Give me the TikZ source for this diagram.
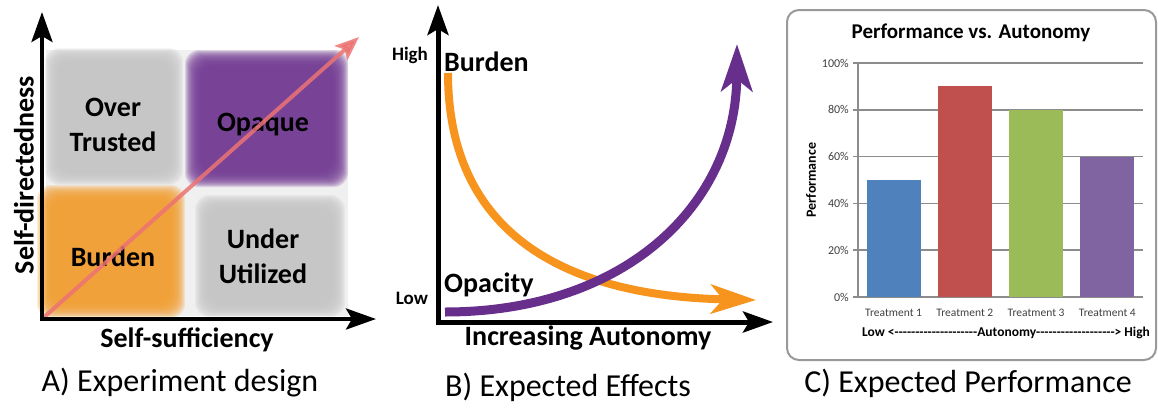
\documentclass[tikz,border=0pt]{standalone}
\usepackage{fontspec}
\setmainfont{Carlito}
\usetikzlibrary{arrows.meta}

\definecolor{quadgray}{RGB}{198,198,198}
\definecolor{quadpurple}{RGB}{117,62,150}
\definecolor{quadorange}{RGB}{245,160,52}
\definecolor{trendred}{RGB}{236,115,115}
\definecolor{burdenorange}{RGB}{247,148,30}
\definecolor{opacitypurple}{RGB}{104,46,140}
\definecolor{barblue}{RGB}{79,129,189}
\definecolor{barred}{RGB}{192,80,77}
\definecolor{bargreen}{RGB}{155,187,89}
\definecolor{barpurple}{RGB}{128,100,162}

% blurred quadrant: colour, top-left x/y, bottom-right x/y
\newcommand{\softbox}[5]{%
  \foreach \k in {0,...,15}
    \fill[#1, opacity=0.18, rounded corners=14pt]
      (#2+\k,#3+\k) rectangle (#4-\k,#5-\k);
}
% a run of plain hyphens (no en/em dash ligatures)
\newcommand{\dashrun}[1]{\foreach \n in {1,...,#1}{\mbox{-}}}

\tikzset{
  every node/.style={inner sep=0pt},
  axishead/.tip={Stealth[length=30pt,width=21pt,inset=6pt]},
  axisline/.style={line width=4pt, line join=miter, axishead-axishead},
  bigword/.style={font=\fontsize{28}{35}\selectfont\bfseries, align=center},
  smallword/.style={font=\fontsize{19}{21}\selectfont\bfseries},
  caption/.style={font=\fontsize{32}{34}\selectfont},
  curve/.style={line width=#1pt, line cap=butt},
  gridline/.style={draw=black!45, line width=1.5pt},
  ticklabel/.style={font=\fontsize{12}{14}\selectfont, text=black!75, anchor=east},
  catlabel/.style={font=\fontsize{11.5}{13}\selectfont, text=black!75}
}

\begin{document}
\begin{tikzpicture}[x=1pt, y=-1pt]
  \useasboundingbox (0,0) rectangle (1158,407);

  %% A) quadrants
  \fill[black!6] (46,50) rectangle (348,316);
  \softbox{quadgray}{45}{48}{183}{185}
  \softbox{quadpurple}{185}{50}{348}{187}
  \softbox{quadorange}{37}{185}{185}{318}
  \softbox{quadgray}{195}{195}{345}{317}

  \node[bigword] (overtrusted) at (113,125) {Over\\Trusted};
  \node[bigword] (opaque) at (263,125) {Opaque};
  \node[bigword] (burdenA) at (113,257) {Burden};
  \node[bigword] (underutil) at (263,256) {Under\\Utilized};

  \coordinate (oA) at (42,319);
  \coordinate (yA) at (42,12);
  \coordinate (xA) at (376,319);
  \coordinate (tA) at (359,37);
  \draw[trendred, opacity=0.85, line width=4pt,
        -{Stealth[length=24pt,width=19pt,inset=5pt]}] (oA) -- (tA);
  \draw[axisline] (yA) -- (oA) -- (xA);

  \node[bigword, rotate=90] (sdir) at (24,175) {Self-directedness};
  \node[bigword] (ssuff) at (187,340) {Self-sufficiency};
  \node[caption] (capA) at (180,383) {A) Experiment design};

  %% B) expected effects
  \coordinate (oB) at (438,322);
  \coordinate (yB) at (438,5);
  \coordinate (xB) at (773,322);
  \draw[axisline, line width=5pt] (yB) -- (oB) -- (xB);

  \node[smallword] (high) at (410,55) {High};
  \node[smallword] (low) at (412,298) {Low};
  \node[bigword, anchor=west] (burdenB) at (444,62) {Burden};
  \node[bigword, anchor=west] (opacity) at (444,285) {Opacity};

  \coordinate (bs) at (448,73);
  \coordinate (be) at (756,300);
  \coordinate (ps) at (445,312);
  \coordinate (pe) at (737,44);
  \draw[curve=8, burdenorange, -{Stealth[length=45pt,width=29pt,inset=12pt]}]
    (bs) .. controls (448,230) and (560,296) .. (be);
  \draw[curve=9, opacitypurple, -{Stealth[length=47pt,width=31pt,inset=12pt]}]
    (ps) .. controls (625,312) and (736,205) .. (pe);

  \node[bigword] (autonomy) at (588,338) {Increasing Autonomy};
  \node[caption] (capB) at (568,387) {B) Expected Effects};

  %% C) bar chart
  \draw[black!40, line width=2pt, rounded corners=12pt] (787,10) rectangle (1156,360);
  \node[font=\fontsize{21}{23}\selectfont\bfseries] (title) at (971,33) {Performance vs. Autonomy};

  \foreach \v in {0,20,...,100} {
    \draw[gridline] (853,{297-2.34*\v}) -- (1143,{297-2.34*\v});
    \node[ticklabel] (tick\v) at (849,{297-2.34*\v}) {\v\%};
  }
  \foreach \val/\col [count=\i] in {50/barblue,90/barred,80/bargreen,60/barpurple} {
    \fill[\col] ({858+71.25*(\i-0.5)-27},297) rectangle ({858+71.25*(\i-0.5)+27},{297-2.34*\val});
    \node[catlabel] (cat\i) at ({858+71.25*(\i-0.5)},313) {Treatment \i};
  }
  \draw[gridline] (858,63) -- (858,297);

  \node[font=\fontsize{14}{16}\selectfont\bfseries, rotate=90] (perf) at (811,180) {Performance};
  \node[font=\fontsize{13.5}{15}\selectfont\bfseries] (range) at (1006,333)
    {Low <\dashrun{20}Autonomy\dashrun{19}> High};
  \node[caption] (capC) at (968,383) {C) Expected Performance};
\end{tikzpicture}
\end{document}
